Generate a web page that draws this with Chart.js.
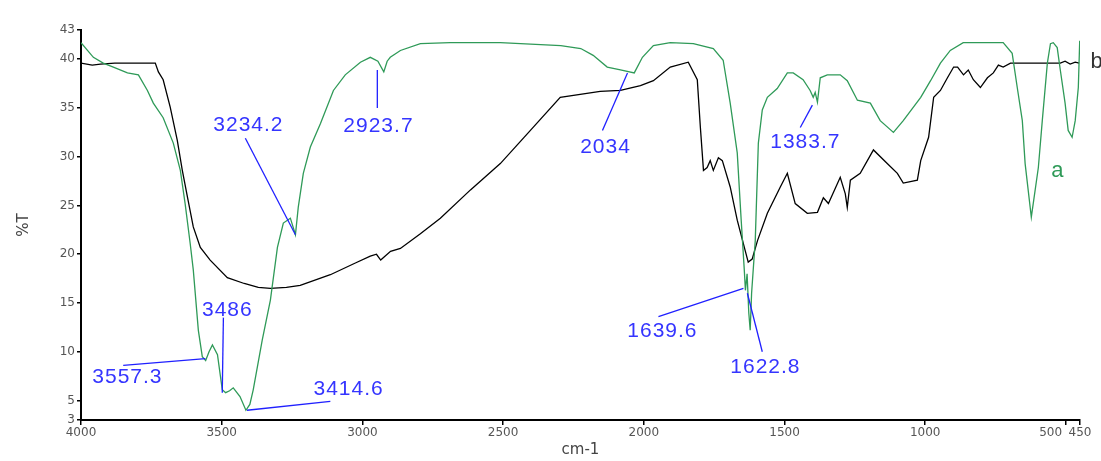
<!DOCTYPE html>
<html>
<head>
<meta charset="utf-8">
<script src="https://cdn.jsdelivr.net/npm/chart.js@4/dist/chart.umd.min.js"></script>
<style>
  html, body { margin: 0; padding: 0; background: #fff; }
  #wrap { width: 1101px; height: 461px; }
</style>
</head>
<body>
<div id="wrap"><canvas id="ir"></canvas></div>
<script>
// spectrum a (green)
const waveA = [4000,3956,3921,3885,3835,3796,3764,3743,3708,3672,3647,3630,3612,3601,3583,3569,3557,3545,3533,3515,3498,3486,3472,3459,3435,3414,3400,3388,3356,3327,3302,3281,3256,3238,3228,3210,3185,3149,3103,3061,3007,2972,2945,2924,2912,2901,2865,2794,2688,2510,2295,2224,2180,2130,2083,2034,2005,1966,1906,1824,1753,1718,1693,1668,1654,1643,1639,1633,1627,1622,1617,1604,1593,1579,1561,1526,1490,1469,1434,1409,1398,1391,1383,1373,1348,1302,1277,1241,1195,1160,1113,1078,1016,981,946,911,865,723,691,673,655,645,623,598,584,566,555,545,531,520,503,492,478,467,456,451];
const transA = [41.7,40.2,39.6,39.2,38.6,38.4,36.8,35.5,34.0,31.4,28.6,25.2,21.1,18.4,12.2,9.5,9.1,10.0,10.7,9.7,6.1,5.8,6.0,6.3,5.4,4.0,4.6,6.1,11.2,15.3,20.7,23.2,23.7,22.0,24.8,28.3,31.0,33.4,36.8,38.4,39.7,40.2,39.8,38.7,39.8,40.2,40.9,41.6,41.7,41.7,41.4,41.1,40.4,39.2,38.9,38.6,40.2,41.4,41.7,41.6,41.1,39.9,35.5,30.4,23.5,18.4,16.3,18.0,14.0,12.2,16.0,21.4,31.4,34.8,36.1,37.0,38.6,38.6,37.9,36.8,36.1,36.6,35.6,38.1,38.4,38.4,37.8,35.8,35.5,33.7,32.5,33.7,36.1,37.8,39.6,40.9,41.7,41.7,40.6,37.1,33.7,29.3,23.8,28.9,33.7,39.6,41.6,41.7,41.2,38.9,35.5,32.7,32.0,33.7,37.1,41.9];

// spectrum b (black)
const waveB = [4000,3960,3931,3880,3825,3736,3725,3708,3683,3658,3640,3622,3601,3576,3541,3480,3420,3370,3327,3270,3221,3114,3025,2972,2950,2935,2900,2865,2794,2723,2616,2510,2403,2297,2155,2083,2012,1966,1906,1842,1810,1799,1788,1775,1764,1753,1735,1721,1693,1668,1640,1629,1615,1596,1561,1515,1490,1462,1419,1383,1362,1344,1302,1284,1277,1266,1231,1184,1135,1099,1078,1028,1016,988,970,946,921,899,885,864,847,829,804,779,758,740,723,697,520,503,485,467,453];
const transB = [39.6,39.4,39.5,39.6,39.6,39.6,38.7,37.9,35.1,31.7,28.6,25.9,22.8,20.7,19.4,17.6,17.0,16.6,16.5,16.6,16.8,17.9,19.1,19.8,20.0,19.4,20.3,20.6,22.1,23.7,26.6,29.3,32.7,36.1,36.7,36.8,37.3,37.8,39.2,39.7,37.9,33.0,28.6,28.9,29.6,28.6,29.9,29.6,26.9,23.5,20.4,19.2,19.5,21.4,24.2,26.9,28.3,25.2,24.2,24.3,25.8,25.2,27.9,26.2,24.8,27.6,28.3,30.7,29.3,28.3,27.3,27.6,29.6,32.0,36.1,36.8,38.1,39.2,39.2,38.4,38.9,37.9,37.1,38.1,38.6,39.4,39.2,39.6,39.6,39.8,39.5,39.7,39.6];

// tick labels
const xTicks = [4000,3500,3000,2500,2000,1500,1000,500,450];
const yTicks = [3,5,10,15,20,25,30,35,40,43];

// peak labels: text, label position, leader line from / to (cm-1, %T)
const peakText  = ["3234.2","2923.7","2034","1383.7","1639.6","1622.8","3557.3","3486","3414.6"];
const peakLabel = [[3405,32.6],[2943,32.5],[2136,30.4],[1426,30.9],[1934,11.5],[1568,7.8],[3835,6.8],[3480,13.7],[3049,5.6]];
const peakFrom  = [[3416,31.9],[2947,35.0],[2147,32.7],[1444,33.0],[1948,13.6],[1579,10.0],[3850,8.6],[3494,13.5],[3410,4.0]];
const peakTo    = [[3238,22.0],[2947,38.9],[2058,38.6],[1401,35.3],[1646,16.5],[1632,16.0],[3558,9.3],[3498,5.8],[3114,4.9]];

// curve names at the right
const curveNames = [["a",552,27.9,"#2f9a58"],["b",413,39.1,"#333"]];

const toXY = (w, t) => w.map((v, i) => ({x: v, y: t[i]}));

// draws peak labels and leader lines through the chart scales
const peakPlugin = {
  id: "peaks",
  afterDatasetsDraw(chart) {
    const ctx = chart.ctx;
    const sx = chart.scales.x, sy = chart.scales.y;
    ctx.save();
    ctx.strokeStyle = "#2020ff";
    ctx.lineWidth = 1.3;
    for (let i = 0; i < peakText.length; i++) {
      ctx.beginPath();
      ctx.moveTo(sx.getPixelForValue(peakFrom[i][0]), sy.getPixelForValue(peakFrom[i][1]));
      ctx.lineTo(sx.getPixelForValue(peakTo[i][0]), sy.getPixelForValue(peakTo[i][1]));
      ctx.stroke();
    }
    ctx.font = "21px 'Liberation Sans', Arial, sans-serif";
    ctx.letterSpacing = "1px";
    ctx.fillStyle = "#3535ff";
    ctx.textAlign = "center";
    ctx.textBaseline = "alphabetic";
    for (let i = 0; i < peakText.length; i++) {
      ctx.fillText(peakText[i], sx.getPixelForValue(peakLabel[i][0]), sy.getPixelForValue(peakLabel[i][1]));
    }
    ctx.letterSpacing = "0px";
    ctx.font = "22px 'Liberation Sans', Arial, sans-serif";
    ctx.textAlign = "left";
    for (const n of curveNames) {
      ctx.fillStyle = n[3];
      ctx.fillText(n[0], sx.getPixelForValue(n[1]), sy.getPixelForValue(n[2]));
    }
    ctx.restore();
  }
};

new Chart(document.getElementById("ir"), {
  type: "line",
  plugins: [peakPlugin],
  data: {
    datasets: [
      { label: "a", data: toXY(waveA, transA), borderColor: "#2f9a58", borderWidth: 1.3, pointRadius: 0, tension: 0 },
      { label: "b", data: toXY(waveB, transB), borderColor: "#000", borderWidth: 1.3, pointRadius: 0, tension: 0 },
    ],
  },
  options: {
    responsive: true,
    maintainAspectRatio: false,
    animation: false,
    layout: { padding: { top: 30, right: 21, bottom: 0, left: 0 } },
    plugins: { legend: { display: false }, tooltip: { enabled: false } },
    scales: {
      x: {
        type: "linear",
        min: 450, max: 4000,
        reverse: true,
        afterBuildTicks: (s) => { s.ticks = xTicks.map(v => ({value: v})); },
        afterFit: (s) => { s.height = 41; },
        // 500 and 450 sit close together, push 500 to the left a bit
        ticks: { autoSkip: false, maxRotation: 0, minRotation: 0, padding: 1, color: "#555",
                 font: { family: "'DejaVu Sans'", size: 12 },
                 callback: (v) => v === 500 ? "500        " : String(v) },
        grid: { drawOnChartArea: false, drawTicks: true, tickLength: 5, color: "#000", lineWidth: 1.5 },
        border: { display: true, color: "#000", width: 2 },
        title: { display: true, text: "cm-1", color: "#444", font: { family: "'DejaVu Sans'", size: 15 }, padding: { top: 0, bottom: 2 } },
      },
      y: {
        min: 3, max: 43,
        afterBuildTicks: (s) => { s.ticks = yTicks.map(v => ({value: v})); },
        afterFit: (s) => { s.width = 81; },
        ticks: { autoSkip: false, padding: 2, color: "#555",
                 font: { family: "'DejaVu Sans'", size: 12 }, callback: (v) => String(v) },
        grid: { drawOnChartArea: false, drawTicks: true, tickLength: 4, color: "#000", lineWidth: 1.5 },
        border: { display: true, color: "#000", width: 2 },
        title: { display: true, text: "%T", color: "#444", font: { family: "'DejaVu Sans'", size: 15 }, padding: { top: 15, bottom: 0 } },
      },
    },
  },
});
</script>
</body>
</html>
